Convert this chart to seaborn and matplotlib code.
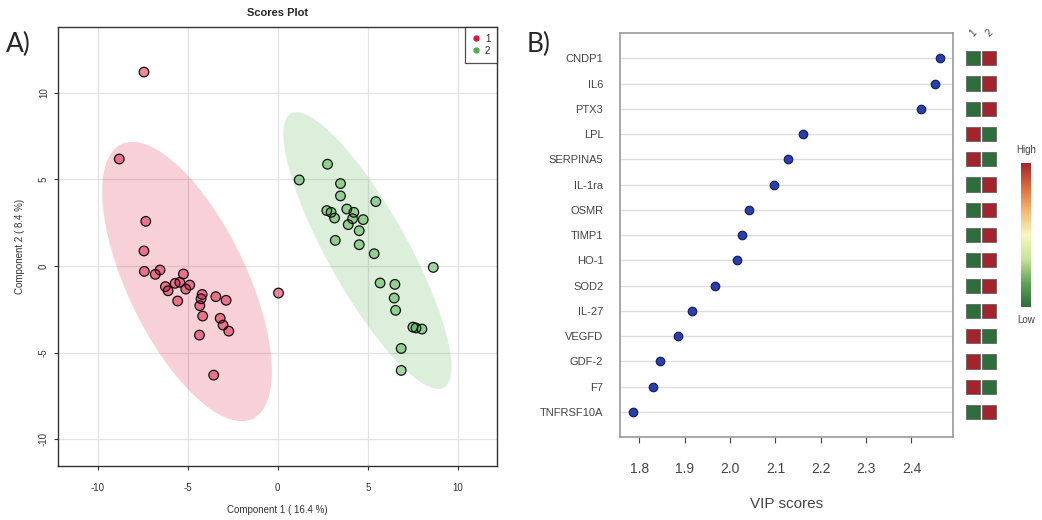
import numpy as np
import pandas as pd
import matplotlib
matplotlib.use("Agg")
import matplotlib.pyplot as plt
import seaborn as sns
from matplotlib.patches import Ellipse
from matplotlib.lines import Line2D
from matplotlib.colors import LinearSegmentedColormap
from matplotlib.cm import ScalarMappable

# ---- panel A: PLS-DA scores ----
g1_x = [-7.43, -8.8, -7.33, -7.43, -7.41, -6.8, -6.54, -6.24, -6.09, -5.7, -5.44, -5.24, -5.56, -5.11,
        -4.89, -4.2, -4.26, -4.33, -4.17, -3.44, -2.87, -3.2, -3.04, -2.72, -4.35, -3.56, 0.04]
g1_y = [11.2, 6.18, 2.58, 0.87, -0.31, -0.48, -0.23, -1.19, -1.43, -1.0, -0.94, -0.46, -2.02, -1.33,
        -1.1, -1.64, -1.89, -2.29, -2.89, -1.77, -1.98, -3.02, -3.41, -3.76, -3.99, -6.3, -1.56]
g2_x = [1.19, 2.76, 3.48, 3.48, 5.44, 2.72, 2.96, 3.15, 3.83, 4.22, 4.15, 4.74, 3.91, 4.52,
        3.19, 4.52, 5.35, 8.63, 5.68, 6.5, 6.46, 6.54, 7.5, 7.67, 8.0, 6.85, 6.85]
g2_y = [4.97, 5.88, 4.76, 4.05, 3.72, 3.2, 3.1, 2.77, 3.29, 3.1, 2.73, 2.68, 2.39, 2.04,
        1.48, 1.23, 0.71, -0.08, -0.98, -1.06, -1.85, -2.56, -3.53, -3.58, -3.64, -4.76, -6.03]

# ---- panel B: VIP scores ----
genes = ["CNDP1", "IL6", "PTX3", "LPL", "SERPINA5", "IL-1ra", "OSMR", "TIMP1", "HO-1",
         "SOD2", "IL-27", "VEGFD", "GDF-2", "F7", "TNFRSF10A"]
vip = [2.463, 2.451, 2.420, 2.161, 2.127, 2.097, 2.041, 2.027, 2.016,
       1.966, 1.916, 1.884, 1.845, 1.830, 1.785]
level_g1 = [0, 0, 0, 1, 1, 0, 0, 0, 0, 0, 0, 1, 1, 1, 0]
level_g2 = [1, 1, 1, 0, 0, 1, 1, 1, 1, 1, 1, 0, 0, 0, 1]

RED = "#dc143c"
GREEN = "#4daf4a"

sns.set_style("white")
plt.rcParams["font.family"] = ["Liberation Sans", "DejaVu Sans"]
plt.rcParams["axes.unicode_minus"] = False

fig = plt.figure(figsize=(10.42, 5.2), dpi=100)

# ---------------- A ----------------
ax = fig.add_axes([0.0557, 0.1038, 0.4213, 0.8442])
ax.set_xlim(-12.2, 12.17)
ax.set_ylim(-11.55, 13.8)
ax.set_xticks([-10, -5, 0, 5, 10])
ax.set_yticks([-10, -5, 0, 5, 10])
ax.grid(True, color="#e3e3e3", linewidth=0.9)
ax.set_axisbelow(True)

scores = pd.DataFrame({
    "x": g1_x + g2_x,
    "y": g1_y + g2_y,
    "group": ["1"] * len(g1_x) + ["2"] * len(g2_x),
})

# 95% confidence ellipse per group
for grp, col in (("1", RED), ("2", GREEN)):
    d = scores[scores.group == grp]
    cov = np.cov(d.x, d.y)
    vals, vecs = np.linalg.eigh(cov)
    order = vals.argsort()[::-1]
    vals, vecs = vals[order], vecs[:, order]
    ang = np.degrees(np.arctan2(vecs[1, 0], vecs[0, 0]))
    k = np.sqrt(5.991)
    e = Ellipse((d.x.mean(), d.y.mean()), 2 * k * np.sqrt(vals[0]), 2 * k * np.sqrt(vals[1]),
                angle=ang, facecolor=col, alpha=0.2, edgecolor="none", zorder=1)
    ax.add_patch(e)

sns.scatterplot(data=scores, x="x", y="y", hue="group", palette={"1": RED, "2": GREEN},
                s=48, alpha=0.5, edgecolor="none", legend=False, ax=ax, zorder=3)
sns.scatterplot(data=scores, x="x", y="y", s=48, facecolor="none", edgecolor="#111111",
                linewidth=0.9, legend=False, ax=ax, zorder=4)

for sp in ax.spines.values():
    sp.set_color("#333333")
    sp.set_linewidth(1.0)
ax.tick_params(axis="both", labelsize=7, colors="#333333", length=3, direction="out",
               bottom=True, left=True)
ax.tick_params(axis="x", pad=9)
for lab in ax.get_yticklabels():
    lab.set_rotation(90)
    lab.set_va("center")
ax.set_xlabel("Component 1 ( 16.4 %)", fontsize=7, color="#333333", labelpad=9)
ax.set_ylabel("Component 2 ( 8.4 %)", fontsize=7, color="#333333", labelpad=10)
ax.set_title("Scores Plot", fontsize=8, fontweight="bold", pad=8)

handles = [Line2D([], [], marker="o", linestyle="", color=RED, markersize=3.5),
           Line2D([], [], marker="o", linestyle="", color=GREEN, markersize=3.5)]
leg = ax.legend(handles, ["1", "2"], loc="upper right", fontsize=7, frameon=True,
                fancybox=False, borderaxespad=0, handlelength=0.8, handletextpad=0.5,
                labelspacing=0.2, borderpad=0.7)
leg.get_frame().set_edgecolor("#222222")
leg.get_frame().set_linewidth(0.9)

fig.text(0.006, 0.915, "A)", fontsize=19, family=["Lato", "DejaVu Sans"], va="center")
fig.text(0.505, 0.915, "B)", fontsize=19, family=["Lato", "DejaVu Sans"], va="center")

# ---------------- B ----------------
bx = fig.add_axes([0.595, 0.1602, 0.3193, 0.7763])
vdf = pd.DataFrame({"gene": genes, "vip": vip})
bx.grid(True, axis="y", color="#dedede", linewidth=1.0)
bx.set_axisbelow(True)
sns.scatterplot(data=vdf, x="vip", y="gene", s=38, color="#2a3fa8", edgecolor="#0d1a60",
                linewidth=0.8, legend=False, ax=bx, zorder=3)
bx.set_xlim(1.757, 2.491)
bx.set_ylim(14.98, -1)
bx.set_xticks([1.8, 1.9, 2.0, 2.1, 2.2, 2.3, 2.4])
bx.set_xticklabels(["1.8", "1.9", "2.0", "2.1", "2.2", "2.3", "2.4"])
bx.tick_params(axis="x", labelsize=10, colors="#444444", length=4, direction="out",
               bottom=True, pad=14)
bx.tick_params(axis="y", labelsize=8, colors="#444444", length=0, pad=12)
for sp in bx.spines.values():
    sp.set_color("#9a9a9a")
    sp.set_linewidth(1.2)
bx.set_xlabel("VIP scores", fontsize=11, color="#444444", labelpad=15)
bx.set_ylabel("")

# mini heatmap of group levels
hx = fig.add_axes([0.926, 0.1602, 0.0313, 0.7763])
cmap = LinearSegmentedColormap.from_list(
    "gr", ["#2e6e3a", "#5fa455", "#c9e39a", "#f7f6bf", "#f4b870", "#dc6a3e", "#a3242c"])
hdf = pd.DataFrame({
    "gene": genes + genes,
    "col": [0] * len(genes) + [1] * len(genes),
    "level": level_g1 + level_g2,
})
sns.scatterplot(data=hdf, x="col", y="gene", hue="level", palette={0: cmap(0.0), 1: cmap(1.0)},
                marker="s", s=105, edgecolor="#555555", linewidth=0.5, legend=False, ax=hx)
hx.set_xlim(-0.5, 1.5)
hx.set_ylim(14.98, -1)
hx.axis("off")
for i, lab in enumerate(["1", "2"]):
    hx.text(i, -1.0, lab, rotation=45, ha="center", va="center", fontsize=7, color="#444444")

# colour key
cx = fig.add_axes([0.98, 0.4096, 0.0096, 0.2775])
cb = fig.colorbar(ScalarMappable(cmap=cmap), cax=cx)
cb.outline.set_visible(False)
cb.set_ticks([])
fig.text(0.985, 0.7115, "High", fontsize=7, color="#444444", ha="center", va="center")
fig.text(0.985, 0.3846, "Low", fontsize=7, color="#444444", ha="center", va="center")

fig.savefig("out.png", dpi=100)
